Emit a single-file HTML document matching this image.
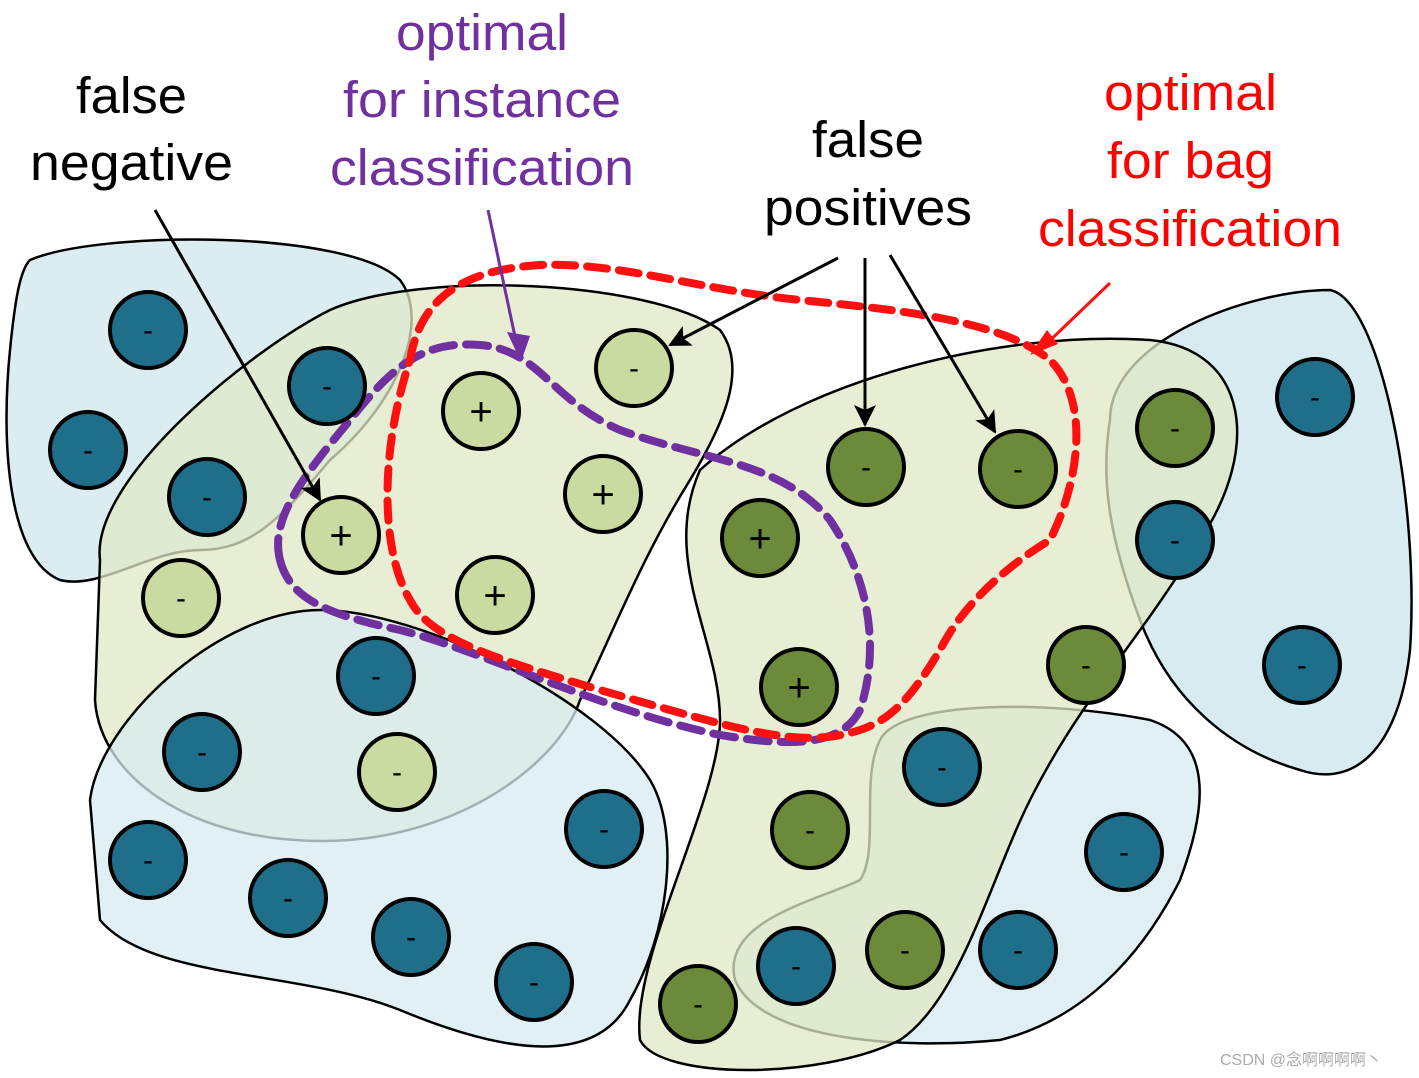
<!DOCTYPE html>
<html><head><meta charset="utf-8"><style>
html,body{margin:0;padding:0;background:#fff;}
svg{display:block;}
text{font-family:"Liberation Sans",Arial,sans-serif;}
</style></head><body>
<svg width="1419" height="1078" viewBox="0 0 1419 1078" xmlns="http://www.w3.org/2000/svg">
<defs>
<marker id="ab" markerWidth="22" markerHeight="22" refX="20" refY="11" orient="auto" markerUnits="userSpaceOnUse" viewBox="0 0 22 22"><path d="M0,0 L22,11 L0,22 L5,11 Z" fill="#000"/></marker>
</defs>
<g stroke="#000" stroke-width="2.5">
<path d="M30,260 C100,230 350,230 400,280 C430,320 400,400 330,460 C280,520 250,550 200,550 C150,550 100,590 60,580 C10,560 0,450 10,350 C15,300 20,270 30,260 Z" fill="#d7ebf0" fill-opacity="0.9"/>
<path d="M880,740 C900,700 1050,700 1150,720 C1210,740 1210,800 1180,880 C1140,960 1080,1020 1000,1040 C900,1050 760,1040 735,980 C720,920 820,900 860,880 C880,850 860,780 880,740 Z" fill="#dcedf3" fill-opacity="0.9"/>
<path d="M1110,420 C1110,340 1250,290 1330,290 C1380,300 1420,500 1410,650 C1400,740 1360,790 1300,770 C1230,750 1170,700 1140,620 C1110,540 1100,480 1110,420 Z" fill="#d7ebf0"/>
<path d="M100,560 C90,480 250,350 330,310 C420,270 650,280 720,330 C750,370 720,430 690,480 C640,560 610,640 580,700 C560,760 470,830 350,840 C200,850 100,780 95,700 Z" fill="#dfe8c6" fill-opacity="0.75"/>
<path d="M700,470 C800,380 1000,330 1150,340 C1250,350 1260,450 1200,540 C1140,640 1080,700 1030,800 C990,880 960,1000 900,1040 C820,1080 660,1080 640,1040 C630,960 720,800 720,720 C720,640 660,560 700,470 Z" fill="#dfe8c6" fill-opacity="0.75"/>
<path d="M90,800 C100,720 220,610 320,610 C420,610 600,700 650,780 C680,830 670,930 630,1000 C600,1060 520,1060 400,1010 C300,970 150,980 100,920 Z" fill="#d7ebf0" fill-opacity="0.75"/>
</g>
<path d="M280,560 C270,520 300,480 350,420 C390,370 420,340 480,345 C540,350 550,400 620,430 C700,460 780,460 830,520 C870,580 880,650 860,710 C840,750 780,745 720,735 C600,710 480,650 400,630 C330,615 290,600 280,560 Z" fill="none" stroke="#7030a0" stroke-width="8" stroke-dasharray="22,12" stroke-linecap="round"/>
<path d="M410,360 C420,300 460,270 540,265 C620,262 700,290 800,300 C900,310 1000,320 1050,360 C1090,400 1080,480 1050,540 C1000,570 960,610 940,650 C910,700 890,720 860,730 C800,750 740,730 600,690 C500,660 430,640 410,600 C380,550 380,450 410,360 Z" fill="none" stroke="#ff1010" stroke-width="8" stroke-dasharray="20,12" stroke-linecap="round"/>
<g stroke="#000" stroke-width="4">
<g fill="#1f6f8b">
<circle cx="148" cy="330" r="38"/><circle cx="88" cy="450" r="38"/><circle cx="327" cy="386" r="38"/><circle cx="207" cy="497" r="38"/><circle cx="376" cy="676" r="38"/><circle cx="202" cy="752" r="38"/><circle cx="148" cy="860" r="38"/><circle cx="288" cy="898" r="38"/><circle cx="411" cy="937" r="38"/><circle cx="534" cy="982" r="38"/><circle cx="604" cy="829" r="38"/><circle cx="942" cy="767" r="38"/><circle cx="1124" cy="852" r="38"/><circle cx="1018" cy="950" r="38"/><circle cx="796" cy="966" r="38"/><circle cx="1175" cy="540" r="38"/><circle cx="1315" cy="397" r="38"/><circle cx="1302" cy="665" r="38"/>
</g>
<g fill="#c9dba0">
<circle cx="634" cy="368" r="38"/><circle cx="481" cy="411" r="38"/><circle cx="603" cy="494" r="38"/><circle cx="341" cy="535" r="38"/><circle cx="495" cy="595" r="38"/><circle cx="181" cy="598" r="38"/><circle cx="397" cy="772" r="38"/>
</g>
<g fill="#6b8a3a">
<circle cx="866" cy="467" r="38"/><circle cx="1018" cy="469" r="38"/><circle cx="760" cy="538" r="38"/><circle cx="799" cy="687" r="38"/><circle cx="1175" cy="428" r="38"/><circle cx="1086" cy="665" r="38"/><circle cx="810" cy="830" r="38"/><circle cx="905" cy="950" r="38"/><circle cx="698" cy="1004" r="38"/>
</g>
</g>
<g font-size="30" text-anchor="middle" fill="#000">
<text x="148" y="340">-</text><text x="88" y="460">-</text><text x="327" y="396">-</text><text x="207" y="507">-</text><text x="376" y="686">-</text><text x="202" y="762">-</text><text x="148" y="870">-</text><text x="288" y="908">-</text><text x="411" y="947">-</text><text x="534" y="992">-</text><text x="604" y="839">-</text><text x="942" y="777">-</text><text x="1124" y="862">-</text><text x="1018" y="960">-</text><text x="796" y="976">-</text><text x="1175" y="550">-</text><text x="1315" y="407">-</text><text x="1302" y="675">-</text>
<text x="634" y="378">-</text><text x="181" y="608">-</text><text x="397" y="782">-</text>
<text x="866" y="477">-</text><text x="1018" y="479">-</text><text x="1175" y="438">-</text><text x="1086" y="675">-</text><text x="810" y="840">-</text><text x="905" y="960">-</text><text x="698" y="1014">-</text>
</g>
<g font-size="40" text-anchor="middle" fill="#000">
<text x="481" y="425">+</text><text x="603" y="508">+</text><text x="341" y="549">+</text><text x="495" y="609">+</text><text x="760" y="552">+</text><text x="799" y="701">+</text>
</g>
<g stroke="#000" stroke-width="3" marker-end="url(#ab)" fill="none">
<line x1="155" y1="210" x2="320" y2="500"/>
<line x1="838" y1="258" x2="670" y2="345"/>
<line x1="865" y1="258" x2="865" y2="425"/>
<line x1="890" y1="255" x2="995" y2="432"/>
</g>
<line x1="488" y1="210" x2="520" y2="360" stroke="#7030a0" stroke-width="3"/>
<path d="M507,332 L530,336 L521,362 Z" fill="#7030a0"/>
<line x1="1110" y1="283" x2="1040" y2="350" stroke="#ff1010" stroke-width="3"/>
<path d="M1030,355 L1047,330 L1058,344 Z" fill="#ff1010"/>
<g font-size="51">
<text x="76" y="113" textLength="111" lengthAdjust="spacingAndGlyphs" fill="#000">false</text>
<text x="30" y="180" textLength="203" lengthAdjust="spacingAndGlyphs" fill="#000">negative</text>
<text x="396" y="50" textLength="172" lengthAdjust="spacingAndGlyphs" fill="#7030a0">optimal</text>
<text x="343" y="117" textLength="278" lengthAdjust="spacingAndGlyphs" fill="#7030a0">for instance</text>
<text x="330" y="185" textLength="304" lengthAdjust="spacingAndGlyphs" fill="#7030a0">classification</text>
<text x="812" y="157" textLength="112" lengthAdjust="spacingAndGlyphs" fill="#000">false</text>
<text x="764" y="225" textLength="208" lengthAdjust="spacingAndGlyphs" fill="#000">positives</text>
<text x="1104" y="110" textLength="173" lengthAdjust="spacingAndGlyphs" fill="#ff0000">optimal</text>
<text x="1107" y="178" textLength="167" lengthAdjust="spacingAndGlyphs" fill="#ff0000">for bag</text>
<text x="1038" y="246" textLength="304" lengthAdjust="spacingAndGlyphs" fill="#ff0000">classification</text>
</g>
<text x="1220" y="1065" font-size="16" fill="#aaa" style="font-family:'Liberation Sans','Noto Sans CJK SC',sans-serif">CSDN @念啊啊啊啊丶</text>
</svg>
</body></html>
